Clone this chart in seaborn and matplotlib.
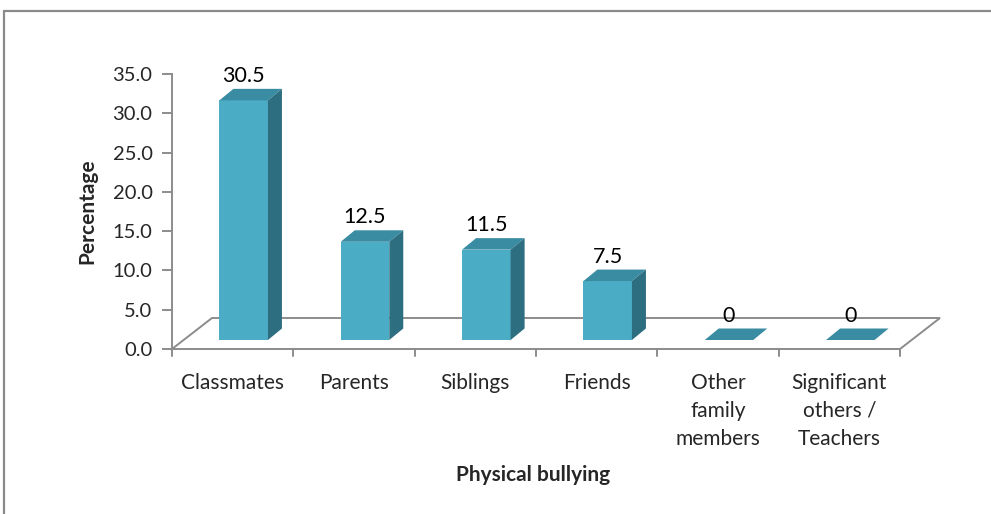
import matplotlib
matplotlib.use("Agg")
import matplotlib.pyplot as plt
import seaborn as sns
import pandas as pd
from matplotlib.patches import Polygon
from matplotlib.lines import Line2D

categories = ["Classmates", "Parents", "Siblings", "Friends",
              "Other\nfamily\nmembers", "Significant\nothers /\nTeachers"]
values = [30.5, 12.5, 11.5, 7.5, 0, 0]
value_labels = ["30.5", "12.5", "11.5", "7.5", "0", "0"]
yticks = [0, 5, 10, 15, 20, 25, 30, 35]
ytick_labels = ["0.0", "5.0", "10.0", "15.0", "20.0", "25.0", "30.0", "35.0"]

FRONT = "#4BACC6"
TOP = "#3A8CA3"
SIDE = "#2D6E80"
GRID = "#8C8C8C"

sns.set_theme(style="white")
plt.rcParams['font.family'] = ['Lato', 'DejaVu Sans']

W, H = 991, 514
fig = plt.figure(figsize=(W / 100, H / 100), dpi=100)
x0px, x1px, y0px, y1px = 172, 900, 349, 74
ax = fig.add_axes([x0px / W, 1 - y0px / H, (x1px - x0px) / W, (y0px - y1px) / H])

df = pd.DataFrame({"cat": categories, "val": values})
sns.barplot(data=df, x="cat", y="val", ax=ax, color=FRONT, width=0.40,
            saturation=1, edgecolor="none", zorder=3)
ax.set_xlim(-0.5, 5.5)
ax.set_ylim(0, 35)

px_x = (x1px - x0px) / 6.0      # pixels per category
px_y = (y0px - y1px) / 35.0     # pixels per unit

# offsets (bars sit at mid-depth of floor)
off_x = 11 / px_x
off_y = 9 / px_y
dep_x = 14 / px_x
dep_y = 11.5 / px_y
floor_dx = 40 / px_x
floor_dy = 31 / px_y

bars = list(ax.patches)

# floor
floor = Polygon([(-0.5, 0), (5.5, 0), (5.5 + floor_dx, floor_dy), (-0.5 + floor_dx, floor_dy)],
                closed=True, facecolor="none", edgecolor=GRID, lw=1.4, clip_on=False, zorder=1)
ax.add_patch(floor)

for i, p in enumerate(bars):
    xl = p.get_x() + off_x
    w = p.get_width()
    h = p.get_height()
    p.set_x(xl)
    p.set_y(off_y)
    b = off_y
    t = off_y + h
    xr = xl + w
    top = Polygon([(xl, t), (xr, t), (xr + dep_x, t + dep_y), (xl + dep_x, t + dep_y)],
                  closed=True, facecolor=TOP, edgecolor="none", zorder=3, clip_on=False)
    ax.add_patch(top)
    if h > 0:
        side = Polygon([(xr, b), (xr + dep_x, b + dep_y), (xr + dep_x, t + dep_y), (xr, t)],
                       closed=True, facecolor=SIDE, edgecolor="none", zorder=3, clip_on=False)
        ax.add_patch(side)
    ax.annotate(value_labels[i], (xl + w / 2, t + dep_y), xytext=(0, 7),
                textcoords="offset pixels", ha="center", va="baseline",
                fontsize=15.5, color="black", annotation_clip=False, zorder=5)

# axes styling
for s in ["top", "right", "bottom"]:
    ax.spines[s].set_visible(False)
ax.spines["left"].set_color(GRID)
ax.spines["left"].set_linewidth(1.4)
ax.set_yticks(yticks)
ax.set_yticklabels(ytick_labels, fontsize=14.5)
ax.tick_params(axis="y", left=True, length=7, width=1.4, color=GRID, pad=7)
ax.set_xticks([i + 0.0 for i in range(6)])
ax.set_xticklabels(categories, fontsize=15, linespacing=1.5)
ax.tick_params(axis="x", bottom=False, pad=11)
for xb in [i - 0.5 for i in range(7)]:
    ax.plot([xb, xb], [0, -7 / px_y], color=GRID, lw=1.4, clip_on=False, zorder=2)
ax.set_xlabel("")
ax.set_ylabel("")

fig.text(87 / W, 1 - 211 / H, "Percentage", rotation=90, ha="center", va="center",
         fontsize=15, fontweight="bold")
fig.text(533 / W, 1 - 475 / H, "Physical bullying", ha="center", va="center",
         fontsize=15, fontweight="bold")

# outer frame (top and left)
fig.add_artist(Line2D([4 / W, 1], [1 - 11 / H, 1 - 11 / H], color="#8A8A8A", lw=1.6))
fig.add_artist(Line2D([4 / W, 4 / W], [0, 1 - 11 / H], color="#8A8A8A", lw=1.6))

fig.savefig("out.png", dpi=100)
